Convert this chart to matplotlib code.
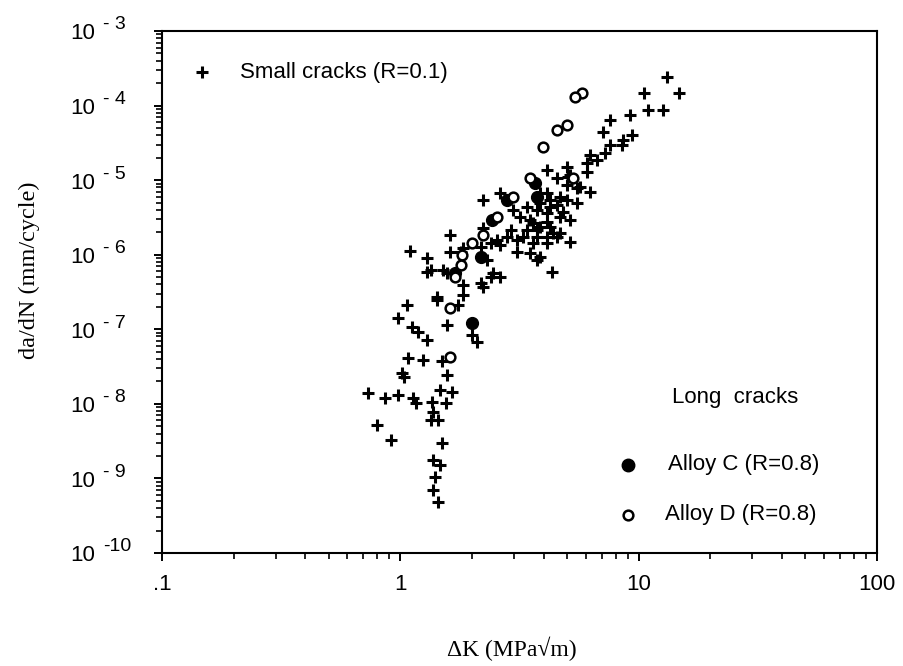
import matplotlib
matplotlib.use("Agg")
import matplotlib.pyplot as plt
from matplotlib.ticker import FixedLocator, FixedFormatter, LogLocator, NullFormatter

# small cracks, R=0.1
small_dk = [1.10, 1.30, 1.30, 1.62, 1.62, 1.57, 1.84, 1.84, 1.43, 1.75,
            1.07, 0.98, 1.12, 1.19, 1.30, 1.57, 2.00, 2.10, 1.08, 1.24,
            1.50, 1.57, 0.73, 0.865, 0.98, 1.13, 1.16, 1.47, 1.65, 1.36,
            1.55, 1.37, 1.44, 1.34, 0.80, 0.91, 1.50, 1.37, 1.47, 1.40,
            1.37, 1.44, 1.02, 1.04,
            13.2, 10.5, 14.7, 10.9, 12.7, 9.2, 7.6, 7.1, 9.4, 8.6,
            7.6, 7.25, 8.55, 6.7, 6.27, 6.09, 6.09, 5.02, 4.14, 5.07,
            4.56, 5.17, 5.02, 5.53, 6.27, 5.69, 2.63, 2.23, 3.87, 4.26,
            4.69, 4.14, 3.41, 3.76, 4.26, 5.53, 3.87, 4.56, 5.02, 3.19,
            3.51, 4.14, 4.69, 4.83, 5.17, 2.98, 4.26, 4.14, 3.62, 2.23,
            2.90, 3.41, 3.87, 4.69, 3.76, 2.55, 2.81, 3.10, 3.28, 3.76,
            4.14, 4.56, 4.39, 5.17, 1.84, 2.17, 2.39, 2.63, 1.79, 3.10,
            3.51, 3.87, 4.14, 3.62, 2.32, 3.76, 2.39, 2.63, 2.17, 4.34,
            1.51, 1.34, 1.43, 2.46, 2.23]
small_rate = [1.12e-6, 9.1e-7, 5.9e-7, 1.84e-6, 1.09e-6, 5.7e-7, 3.9e-7, 2.9e-7, 2.5e-7, 2.1e-7,
              2.1e-7, 1.42e-7, 1.08e-7, 9.2e-8, 7.2e-8, 1.15e-7, 8.4e-8, 6.8e-8, 4.1e-8, 3.9e-8,
              3.7e-8, 2.45e-8, 1.40e-8, 1.20e-8, 1.32e-8, 1.20e-8, 1.03e-8, 1.54e-8, 1.45e-8, 1.06e-8,
              1.03e-8, 7.8e-9, 6.1e-9, 6.1e-9, 5.2e-9, 3.3e-9, 3.0e-9, 1.77e-9, 1.52e-9, 1.05e-9,
              7.0e-10, 4.9e-10, 2.6e-8, 2.3e-8,
              2.4e-4, 1.48e-4, 1.48e-4, 8.7e-5, 8.7e-5, 7.5e-5, 6.4e-5, 4.4e-5, 4.0e-5, 3.5e-5,
              3.0e-5, 2.3e-5, 3.0e-5, 1.87e-5, 2.2e-5, 1.70e-5, 1.29e-5, 1.50e-5, 1.37e-5, 1.10e-5,
              1.07e-5, 1.17e-5, 8.6e-6, 7.9e-6, 6.9e-6, 8.1e-6, 6.7e-6, 5.4e-6, 6.7e-6, 5.4e-6,
              5.95e-6, 6.7e-6, 4.4e-6, 4.0e-6, 4.4e-6, 4.9e-6, 4.9e-6, 4.65e-6, 5.4e-6, 3.2e-6,
              2.9e-6, 3.6e-6, 3.2e-6, 3.75e-6, 2.9e-6, 4.0e-6, 2.36e-6, 2.75e-6, 2.67e-6, 2.3e-6,
              2.15e-6, 2.15e-6, 2.36e-6, 1.96e-6, 2.15e-6, 1.58e-6, 1.73e-6, 1.58e-6, 1.73e-6, 1.73e-6,
              1.73e-6, 1.73e-6, 1.96e-6, 1.49e-6, 1.23e-6, 1.27e-6, 1.44e-6, 1.35e-6, 1.09e-6, 1.09e-6,
              1.06e-6, 9.4e-7, 1.44e-6, 1.44e-6, 8.5e-7, 8.5e-7, 5.0e-7, 5.0e-7, 4.2e-7, 5.9e-7,
              6.25e-7, 6.25e-7, 2.7e-7, 5.7e-7, 3.7e-7]

# long cracks, alloy C, R=0.8 (filled)
alloy_c_dk = [3.69, 2.81, 3.76, 2.43, 2.17, 1.70, 2.00]
alloy_c_rate = [9.2e-6, 5.4e-6, 5.95e-6, 2.9e-6, 9.4e-7, 5.7e-7, 1.2e-7]

# long cracks, alloy D, R=0.8 (open)
alloy_d_dk = [5.80, 5.42, 5.02, 4.56, 3.98, 3.51, 5.32, 2.98, 2.55, 2.23,
              2.00, 1.82, 1.79, 1.70, 1.62, 1.62]
alloy_d_rate = [1.48e-4, 1.30e-4, 5.5e-5, 4.7e-5, 2.8e-5, 1.07e-5, 1.07e-5, 5.9e-6, 3.2e-6, 1.84e-6,
                1.44e-6, 9.9e-7, 7.3e-7, 5.0e-7, 1.94e-7, 4.3e-8]

x_ticks = [0.1, 1, 10, 100]
x_tick_labels = [".1", "1", "10", "100"]
y_exps = [-10, -9, -8, -7, -6, -5, -4, -3]

sans = "Liberation Sans"
serif = "Liberation Serif"

fig = plt.figure(figsize=(9.04, 6.66), dpi=100)
ax = fig.add_axes([0.1792, 0.1697, 0.7909, 0.7838])

ax.plot(small_dk, small_rate, linestyle="none", marker="+", color="black",
        markersize=9, markeredgewidth=2.2, zorder=2)
ax.plot(alloy_c_dk, alloy_c_rate, linestyle="none", marker="o", color="black",
        markersize=8.5, zorder=3)
ax.plot(alloy_d_dk, alloy_d_rate, linestyle="none", marker="o", markerfacecolor="white",
        markeredgecolor="black", markersize=7, markeredgewidth=1.8, zorder=4)

ax.set_xscale("log")
ax.set_yscale("log")
ax.set_xlim(0.1, 100)
ax.set_ylim(1e-10, 1e-3)

for s in ax.spines.values():
    s.set_linewidth(1.5)

ax.xaxis.set_major_locator(FixedLocator(x_ticks))
ax.xaxis.set_major_formatter(FixedFormatter(x_tick_labels))
ax.xaxis.set_minor_locator(LogLocator(base=10, subs=range(2, 10), numticks=20))
ax.xaxis.set_minor_formatter(NullFormatter())
ax.yaxis.set_major_locator(FixedLocator([10.0 ** e for e in y_exps]))
ax.yaxis.set_minor_locator(LogLocator(base=10, subs=range(2, 10), numticks=20))
ax.yaxis.set_minor_formatter(NullFormatter())
ax.set_yticklabels([])

ax.tick_params(which="major", direction="out", length=6, width=1.4, pad=9)
ax.tick_params(which="minor", direction="out", length=4, width=1.2)
ax.tick_params(top=False, right=False, which="both")
for lab in ax.get_xticklabels():
    lab.set_fontfamily(sans)
    lab.set_fontsize(16)

# y tick labels in the "10 -n" style
for e in y_exps:
    sup = "-10" if e == -10 else "- %d" % (-e)
    ax.annotate("10", xy=(0, 10.0 ** e), xycoords=("axes fraction", "data"),
                xytext=(-92, -3), textcoords="offset pixels",
                ha="left", va="center", fontsize=16, family=sans)
    ax.annotate(sup, xy=(0, 10.0 ** e), xycoords=("axes fraction", "data"),
                xytext=(-59, 6), textcoords="offset pixels",
                ha="left", va="center", fontsize=14, family=sans)

fig.text(0.566, 0.026, "\u0394K (MPa\u221am)", ha="center", va="center",
         fontsize=17, family=serif)
ax.set_ylabel("da/dN (mm/cycle)", fontsize=17.5, family=serif)
ax.yaxis.set_label_coords(-0.171, 0.542)

# legend written into the plot
ax.plot([0.056], [0.921], transform=ax.transAxes, linestyle="none", marker="+",
        color="black", markersize=9, markeredgewidth=2.2, clip_on=False)
ax.text(0.109, 0.921, "Small cracks (R=0.1)", transform=ax.transAxes,
        ha="left", va="center", fontsize=16, family=sans)
ax.text(0.713, 0.297, "Long  cracks", transform=ax.transAxes,
        ha="left", va="center", fontsize=16, family=sans)
ax.plot([0.652], [0.169], transform=ax.transAxes, linestyle="none", marker="o",
        color="black", markersize=9)
ax.text(0.708, 0.169, "Alloy C (R=0.8)", transform=ax.transAxes,
        ha="left", va="center", fontsize=16, family=sans)
ax.plot([0.652], [0.073], transform=ax.transAxes, linestyle="none", marker="o",
        markerfacecolor="white", markeredgecolor="black", markersize=7, markeredgewidth=1.8)
ax.text(0.703, 0.073, "Alloy D (R=0.8)", transform=ax.transAxes,
        ha="left", va="center", fontsize=16, family=sans)

fig.savefig("out.png", dpi=100)
